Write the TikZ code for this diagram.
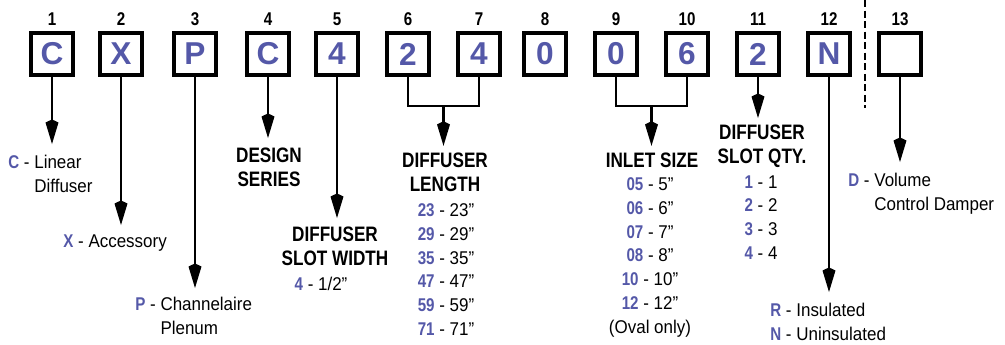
\documentclass[tikz,border=0pt]{standalone}
\usepackage{fontspec}
\setmainfont{Liberation Sans}[UprightFeatures={FakeStretch=0.92},BoldFeatures={FakeStretch=0.82}]
\newfontfamily\boxfont{Liberation Sans}
\usetikzlibrary{arrows.meta,calc}
\definecolor{codeblue}{RGB}{84,88,168}
\newcommand{\optcode}[1]{\textbf{\textcolor{codeblue}{#1}}}
\tikzset{
    digitbox/.style={draw, line width=2.2pt, minimum size=23.8pt, inner sep=0pt,
      text=codeblue, font=\boxfont\bfseries\fontsize{18}{18}\selectfont},
    posnum/.style={anchor=base, inner sep=0pt, font=\bfseries\fontsize{10.5}{12}\selectfont},
    conn/.style={line width=1.2pt},
    arr/.style={line width=1.2pt, -{Kite[length=14pt,width=7.4pt,inset=1.8pt]}},
    heading/.style={anchor=north, align=center, inner sep=0pt,
      font=\bfseries\fontsize{11.9}{13.6}\selectfont},
    vals/.style={anchor=north, align=center, inner sep=0pt, font=\fontsize{10.5}{13.6}\selectfont},
    note/.style={anchor=north west, align=left, inner sep=0pt, font=\fontsize{10.5}{13.6}\selectfont},
}
\begin{document}
\begin{tikzpicture}[x=0.02cm, y=-0.02cm]
    \useasboundingbox (0,0) rectangle (1005,345);

    \foreach \n/\x/\c in {1/52/C, 2/121/X, 3/195/P, 4/268/C, 5/337/4, 6/408/2, 7/479/4,
      8/545/0, 9/616/0, 10/687/6, 11/758/2, 12/829/N, 13/900/{}}{
        \node[digitbox] (b\n) at (\x,54) {\c};
        \node[posnum] (n\n) at (\x,25.5) {\n};
    }
    \draw[line width=1.7pt, dash pattern=on 4pt off 2pt] (865,0) -- (865,108);

    \coordinate (t1) at (52,144);
    \coordinate (t2) at (121,225);
    \coordinate (t3) at (195,288);
    \coordinate (t4) at (268,138);
    \coordinate (t5) at (337,218);
    \coordinate (t11) at (758,118);
    \coordinate (t12) at (829,292);
    \coordinate (t13) at (900,162);
    \draw[arr] (b1.south) -- (t1);
    \draw[arr] (b2.south) -- (t2);
    \draw[arr] (b3.south) -- (t3);
    \draw[arr] (b4.south) -- (t4);
    \draw[arr] (b5.south) -- (t5);
    \draw[arr] (b11.south) -- (t11);
    \draw[arr] (b12.south) -- (t12);
    \draw[arr] (b13.south) -- (t13);

    \coordinate (j67) at ($(b6.south)!0.5!(b7.south)+(0,29)$);
    \coordinate (t67) at ($(j67)+(0,40)$);
    \draw[conn] (b6.south) |- (j67) -| (b7.south);
    \draw[arr] (j67) -- (t67);
    \coordinate (j910) at ($(b9.south)!0.5!(b10.south)+(0,29)$);
    \coordinate (t910) at ($(j910)+(0,40)$);
    \draw[conn] (b9.south) |- (j910) -| (b10.south);
    \draw[arr] (j910) -- (t910);

    \node[note] (lin) at (8,155) {\optcode{C} - Linear\\\phantom{\optcode{C} - }Diffuser};
    \node[note] (acc) at (63,234) {\optcode{X} - Accessory};
    \node[note] (ple) at (135,297) {\optcode{P} - Channelaire\\\phantom{\optcode{P} - }Plenum};
    \node[heading] (ser) at (269,148) {DESIGN\\SERIES};
    \node[heading] (wid) at (335,227) {DIFFUSER\\SLOT WIDTH};
      \node[vals] (widv) at (321,277) {\optcode{4} - 1/2”};
    \node[heading] (len) at (445,153) {DIFFUSER\\LENGTH};
      \node[vals] (lenv) at (446,203) {\optcode{23} - 23”\\\optcode{29} - 29”\\\optcode{35} - 35”\\
        \optcode{47} - 47”\\\optcode{59} - 59”\\\optcode{71} - 71”};
    \node[heading] (inl) at (652,153) {INLET SIZE};
      \node[vals] (inlv) at (650,177) {\optcode{05} - 5”\\\optcode{06} - 6”\\\optcode{07} - 7”\\
        \optcode{08} - 8”\\\optcode{10} - 10”\\\optcode{12} - 12”\\(Oval only)};
    \node[heading] (qty) at (762,125) {DIFFUSER\\SLOT QTY.};
      \node[vals] (qtyv) at (761,175) {\optcode{1} - 1\\\optcode{2} - 2\\\optcode{3} - 3\\\optcode{4} - 4};
    \node[note] (ins) at (770,303) {\optcode{R} - Insulated\\\optcode{N} - Uninsulated};
    \node[note] (dmp) at (848,173) {\optcode{D} - Volume\\\phantom{\optcode{D} - }Control Damper};
\end{tikzpicture}
\end{document}
